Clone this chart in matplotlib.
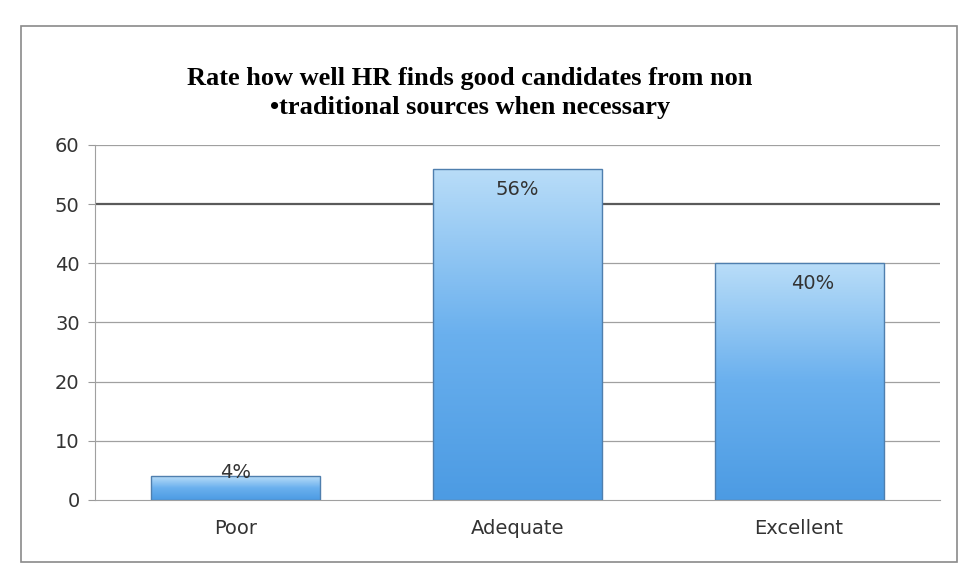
import numpy as np
import matplotlib.pyplot as plt
from matplotlib.colors import LinearSegmentedColormap
from matplotlib.patches import Rectangle

# Datos del gráfico
categorias = ["Poor", "Adequate", "Excellent"]
valores = [4, 56, 40]
etiquetas = ["4%", "56%", "40%"]
ticks_y = [0, 10, 20, 30, 40, 50, 60]
titulo = "Rate how well HR finds good candidates from non\n\u2022traditional sources when necessary"

fig = plt.figure(figsize=(9.69, 5.82), dpi=100)
fig.patch.set_facecolor("white")

# marco exterior del gráfico
fig.patches.append(Rectangle((0.022, 0.035), 0.966, 0.92, transform=fig.transFigure,
                             fill=False, edgecolor="#8a8a8a", linewidth=1.2))

ax = fig.add_axes([0.098, 0.141, 0.872, 0.61])
x = np.arange(len(categorias))
barras = ax.bar(x, valores, width=0.6, color="none", edgecolor="#4f7fae",
                linewidth=1.0, zorder=3)

# degradado azul dentro de cada barra
cmap = LinearSegmentedColormap.from_list("azul", ["#4c9be3", "#6ab0ee", "#b9ddf8"])
grad = np.linspace(0, 1, 256).reshape(-1, 1)
for b in barras:
    x0, w, h = b.get_x(), b.get_width(), b.get_height()
    im = ax.imshow(grad, cmap=cmap, origin="lower", aspect="auto",
                   extent=(x0, x0 + w, 0, h), zorder=2)
    im.set_clip_path(b)

ax.set_xlim(-0.5, len(categorias) - 0.5)
ax.set_ylim(0, 60)
ax.set_yticks(ticks_y)
ax.set_yticklabels([str(t) for t in ticks_y], fontsize=14, color="#333333",
                   family="DejaVu Sans")
ax.set_xticks(x)
ax.set_xticklabels(categorias, fontsize=14, color="#333333", family="DejaVu Sans")
ax.tick_params(axis="x", length=0, pad=14)
ax.tick_params(axis="y", length=5, color="#9a9a9a", pad=6)

# líneas de cuadrícula
for t in ticks_y[1:]:
    if t == 50:
        ax.axhline(t, color="#5a5a5a", linewidth=1.6, zorder=1)
    else:
        ax.axhline(t, color="#a0a0a0", linewidth=0.9, zorder=1)

for lado in ["top", "right"]:
    ax.spines[lado].set_visible(False)
ax.spines["left"].set_color("#a0a0a0")
ax.spines["bottom"].set_color("#a0a0a0")

# etiquetas de porcentaje
desplaz = [0.0, 0.0, 0.05]
for i, (v, e) in enumerate(zip(valores, etiquetas)):
    y_txt = v + 0.6 if v < 10 else v - 3.5
    ax.text(i + desplaz[i], y_txt, e, ha="center", va="center", fontsize=14,
            color="#333333", family="DejaVu Sans", zorder=4)

fig.text(0.485, 0.84, titulo, ha="center", va="center", fontsize=19,
         fontweight="bold", family="Liberation Serif", linespacing=1.3)

plt.savefig("out.png", dpi=100)
